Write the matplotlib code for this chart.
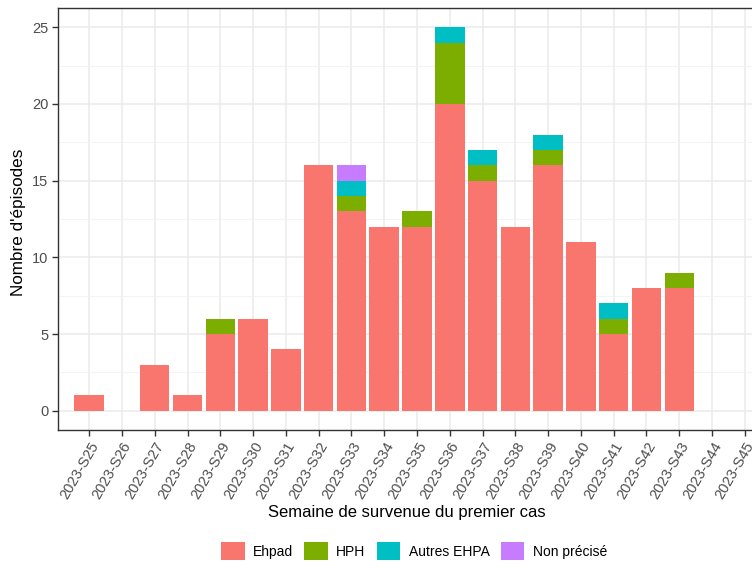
import matplotlib.pyplot as plt
from matplotlib.patches import Patch
from matplotlib.ticker import MultipleLocator
import numpy as np

plt.rcParams['font.family'] = ['Liberation Sans', 'DejaVu Sans']

# Weekly episodes by type of establishment
semaines = ['2023-S%d' % s for s in range(25, 46)]
ehpad       = [1, 0, 3, 1, 5, 6, 4, 16, 13, 12, 12, 20, 15, 12, 16, 11, 5, 8, 8, 0, 0]
hph         = [0, 0, 0, 0, 1, 0, 0, 0, 1, 0, 1, 4, 1, 0, 1, 0, 1, 0, 1, 0, 0]
autres_ehpa = [0, 0, 0, 0, 0, 0, 0, 0, 1, 0, 0, 1, 1, 0, 1, 0, 1, 0, 0, 0, 0]
non_precise = [0, 0, 0, 0, 0, 0, 0, 0, 1, 0, 0, 0, 0, 0, 0, 0, 0, 0, 0, 0, 0]

series = [('Ehpad', ehpad, '#F8766D'),
          ('HPH', hph, '#7CAE00'),
          ('Autres EHPA', autres_ehpa, '#00BFC4'),
          ('Non précisé', non_precise, '#C77CFF')]

W, H = 752, 562
fig = plt.figure(figsize=(W / 100, H / 100), dpi=100)
# panel runs past the right edge like the (cropped) reference
left, right, top, bottom = 58, 756, 8, 430
ax = fig.add_axes([left / W, 1 - bottom / H, (right - left) / W, (bottom - top) / H])

x = np.arange(len(semaines))
base = np.zeros(len(semaines))
for name, vals, col in series:
    vals = np.array(vals, dtype=float)
    ax.bar(x, vals, width=0.9, bottom=base, color=col, linewidth=0, zorder=3)
    base += vals

ax.set_xlim(-0.95, len(semaines) - 1 + 0.34)
ax.set_ylim(-1.25, 26.25)
ax.yaxis.set_major_locator(MultipleLocator(5))
ax.yaxis.set_minor_locator(MultipleLocator(2.5))
ax.set_xticks(x)
ax.set_xticklabels(semaines, rotation=60, ha='right', va='top', rotation_mode='anchor')

ax.grid(True, which='major', color='#EBEBEB', linewidth=1.1, zorder=0)
ax.grid(True, which='minor', axis='y', color='#F2F2F2', linewidth=0.6, zorder=0)
ax.set_axisbelow(True)
for sp in ax.spines.values():
    sp.set_color('#333333')
    sp.set_linewidth(1.0)

ax.tick_params(axis='both', which='major', length=4, width=1, color='#333333',
               labelcolor='#4D4D4D', labelsize=10.5, pad=3)
ax.tick_params(axis='y', which='minor', length=0)

fig.text((left + right) / 2 / W, 1 - 513 / H, 'Semaine de survenue du premier cas',
         ha='center', va='center', fontsize=12, color='black')
fig.text(19 / W, 1 - 222 / H, "Nombre d'épisodes", rotation=90,
         ha='center', va='center', fontsize=12.3, color='black')

handles = [Patch(facecolor=c, edgecolor='none', label=n) for n, v, c in series]
fig.legend(handles=handles, loc='center', bbox_to_anchor=(414 / W, 1 - 551 / H),
           ncol=4, frameon=False, fontsize=10, handlelength=1.7, handleheight=1.7,
           handletextpad=0.6, columnspacing=0.8)

fig.savefig('out.png', dpi=100)
